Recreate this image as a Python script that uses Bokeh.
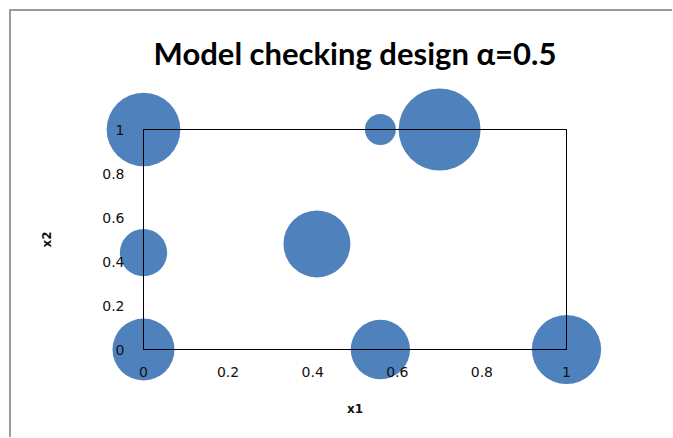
import numpy as np
from bokeh.plotting import figure
from bokeh.models import Range1d, LinearAxis, FixedTicker, ColumnDataSource
from bokeh.embed import file_html
from bokeh.resources import INLINE

# ---- data ----
x1 = [0.0, 0.56, 0.70, 0.0, 0.41, 0.0, 0.56, 1.0]
x2 = [1.0, 1.0, 1.0, 0.44, 0.48, 0.0, 0.0, 0.0]
weight = [0.17, 0.03, 0.21, 0.07, 0.14, 0.12, 0.11, 0.15]
ticks = [0, 0.2, 0.4, 0.6, 0.8, 1]
tick_labels = ["0", "0.2", "0.4", "0.6", "0.8", "1"]
title_text = "Model checking design α=0.5"
x_label = "x1"
y_label = "x2"

# bubble area proportional to weight (like an Excel bubble chart)
max_diam = 82
diam = [max_diam * np.sqrt(w / max(weight)) for w in weight]
src = ColumnDataSource(dict(x1=x1, x2=x2, w=weight, d=diam))

xr = Range1d(0, 1)
yr = Range1d(0, 1)
p = figure(frame_width=423, frame_height=220, x_range=xr, y_range=yr,
           output_backend="svg", toolbar_location=None,
           min_border_left=132, min_border_right=106,
           min_border_top=118, min_border_bottom=88,
           outline_line_color=None, background_fill_color="white",
           border_fill_color="white")
p.styles = {"margin-left": "9px", "margin-top": "9px",
            "border-top": "2px solid #9b9b9b", "border-left": "2px solid #9b9b9b"}
p.grid.visible = False

p.scatter("x1", "x2", size="d", source=src, fill_color="#4F81BD",
          line_color=None, level="annotation")

# plot-area box drawn after (on top of) the bubbles, along the edges of the ranges
bx = [xr.start, xr.end, xr.end, xr.start, xr.start]
by = [yr.start, yr.start, yr.end, yr.end, yr.start]
p.line(bx, by, line_color="black", line_width=1, level="annotation")

overrides = {float(t): l for t, l in zip(ticks, tick_labels)}
for ax, lab in ((p.xaxis[0], x_label), (p.yaxis[0], y_label)):
    ax.ticker = FixedTicker(ticks=ticks)
    ax.major_label_overrides = overrides
    ax.axis_label = lab
    ax.axis_line_color = "black"
    ax.axis_line_width = 1
    ax.major_tick_line_color = None
    ax.major_tick_out = 0
    ax.major_tick_in = 0
    ax.minor_tick_line_color = None
    ax.minor_tick_out = 0
    ax.major_label_text_font = "DejaVu Sans"
    ax.major_label_text_font_size = "14px"
    ax.major_label_text_color = "#111111"
    ax.axis_label_text_font = "DejaVu Sans"
    ax.axis_label_text_font_size = "12px"
    ax.axis_label_text_font_style = "bold"
    ax.axis_label_text_color = "#111111"
    ax.level = "overlay"
p.xaxis[0].major_label_standoff = 17
p.xaxis[0].axis_label_standoff = 22
p.yaxis[0].major_label_standoff = 19
p.yaxis[0].axis_label_standoff = 45

# right and top edges of the plot-area box (no ticks); the top one carries the chart title
box_axes = {}
for loc in ("right", "above"):
    ax = LinearAxis(ticker=FixedTicker(ticks=[]), major_tick_line_color=None,
                    minor_tick_line_color=None, major_tick_out=0, minor_tick_out=0,
                    major_label_text_font_size="0px",
                    axis_line_color="black", axis_line_width=1, level="overlay")
    p.add_layout(ax, loc)
    box_axes[loc] = ax

top = box_axes["above"]
top.axis_label = title_text
top.axis_label_text_font = "Lato"
top.axis_label_text_font_size = "31px"
top.axis_label_text_font_style = "bold"
top.axis_label_text_color = "black"
top.axis_label_standoff = 58

open("out.html", "w").write(file_html(p, INLINE))
